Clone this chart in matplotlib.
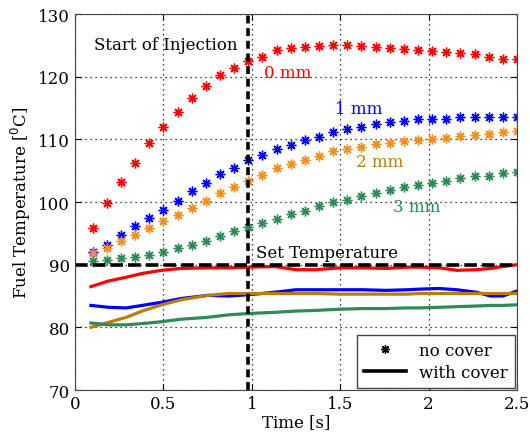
import matplotlib
matplotlib.use("Agg")
import matplotlib.pyplot as plt
from matplotlib.lines import Line2D

plt.rcParams['font.family'] = ['DejaVu Serif']

# sampling times of the "no cover" measurements [s]
t_star = [0.10, 0.18, 0.26, 0.34, 0.42, 0.50, 0.58, 0.66, 0.74, 0.82,
          0.90, 0.98, 1.06, 1.14, 1.22, 1.30, 1.38, 1.46, 1.54, 1.62,
          1.70, 1.78, 1.86, 1.94, 2.02, 2.10, 2.18, 2.26, 2.34, 2.42, 2.50]

# no cover, fuel temperature [C]
nc_0mm = [95.9, 99.8, 103.2, 106.3, 109.4, 112.0, 114.3, 116.6, 118.5, 120.2,
          121.4, 122.5, 123.2, 124.2, 124.5, 124.8, 124.9, 125.0, 125.0, 124.9,
          124.7, 124.6, 124.4, 124.3, 124.1, 123.9, 123.8, 123.6, 123.1, 122.9, 122.8]
nc_1mm = [92.0, 93.1, 94.7, 96.2, 97.5, 98.8, 100.2, 101.7, 103.1, 104.4,
          105.5, 106.7, 107.5, 108.4, 109.1, 109.9, 110.4, 111.1, 111.6, 112.0,
          112.4, 112.8, 113.0, 113.2, 113.3, 113.3, 113.5, 113.5, 113.5, 113.5, 113.5]
nc_2mm = [91.8, 92.7, 93.7, 94.7, 95.8, 96.9, 97.9, 99.0, 100.2, 101.4,
          102.4, 103.4, 104.3, 105.4, 106.0, 106.7, 107.4, 108.1, 108.4, 108.7,
          109.2, 109.4, 109.7, 109.9, 110.1, 110.2, 110.5, 110.7, 110.8, 111.1, 111.3]
nc_3mm = [90.6, 90.7, 91.0, 91.2, 91.6, 92.0, 92.6, 93.1, 93.7, 94.5,
          95.3, 96.0, 96.7, 97.3, 98.1, 98.6, 99.4, 100.0, 100.3, 101.0,
          101.4, 101.9, 102.4, 102.7, 103.0, 103.4, 103.9, 104.1, 104.2, 104.6, 104.8]

# with cover, fuel temperature [C]
t_line = [0.09, 0.19, 0.29, 0.38, 0.49, 0.60, 0.75, 0.87, 0.98, 1.13,
          1.25, 1.36, 1.50, 1.63, 1.76, 1.88, 1.95, 2.06, 2.16, 2.27,
          2.35, 2.42, 2.50]
wc_0mm = [86.5, 87.4, 88.0, 88.6, 89.1, 89.4, 89.5, 89.5, 89.6, 89.7,
          89.2, 89.2, 89.5, 89.5, 89.4, 89.6, 89.6, 89.5, 89.1, 89.2,
          89.4, 89.7, 90.0]
wc_1mm = [83.5, 83.2, 83.1, 83.5, 84.0, 84.6, 85.1, 85.0, 85.2, 85.6,
          86.0, 86.0, 86.0, 86.0, 85.9, 86.0, 86.1, 86.2, 86.0, 85.6,
          85.0, 85.0, 85.8]
wc_2mm = [80.0, 80.8, 81.6, 82.6, 83.6, 84.4, 85.1, 85.4, 85.4, 85.4,
          85.4, 85.4, 85.3, 85.3, 85.3, 85.3, 85.4, 85.4, 85.4, 85.4,
          85.4, 85.4, 85.4]
wc_3mm = [80.7, 80.4, 80.4, 80.6, 80.9, 81.3, 81.6, 82.0, 82.2, 82.4,
          82.6, 82.7, 82.9, 83.0, 83.0, 83.1, 83.1, 83.2, 83.3, 83.4,
          83.5, 83.5, 83.6]

t_injection = 0.98
set_temp = 90

labels = ['0 mm', '1 mm', '2 mm', '3 mm']
star_colors = ['#ff0000', '#0000ff', '#f0901e', '#2e8b57']
line_colors = ['#ff0000', '#0000ff', '#b87d0a', '#2e8b57']
label_pos = [(1.07, 120.7), (1.47, 115.0), (1.59, 106.4), (1.80, 99.3)]

fig = plt.figure(figsize=(5.3, 4.39), dpi=100)
ax = fig.add_axes([0.1415, 0.1093, 0.834, 0.8565])

# MATLAB-like asterisk marker
star = (8, 2, 0)
for ys, c in zip([nc_0mm, nc_1mm, nc_2mm, nc_3mm], star_colors):
    ax.plot(t_star, ys, linestyle='none', marker=star, markersize=7,
            markeredgewidth=1.0, color=c)

for ys, c in zip([wc_0mm, wc_1mm, wc_2mm, wc_3mm], line_colors):
    ax.plot(t_line, ys, '-', linewidth=2.3, color=c)

ax.axhline(set_temp, color='black', linewidth=2.6, dashes=(3.5, 1.4))
ax.axvline(t_injection, color='black', linewidth=2.6, dashes=(2.2, 1.3))

ax.text(0.108, 125.2, 'Start of Injection', fontsize=12, va='center', ha='left')
ax.text(1.025, 92.0, 'Set Temperature', fontsize=12, va='center', ha='left')
for lab, (x, y), c in zip(labels, label_pos, line_colors):
    ax.text(x, y, lab, fontsize=12, color=c, va='center', ha='left')

ax.set_xlim(0, 2.5)
ax.set_ylim(70, 130)
ax.set_xticks([0, 0.5, 1, 1.5, 2, 2.5])
ax.set_xticklabels(['0', '0.5', '1', '1.5', '2', '2.5'])
ax.set_yticks([70, 80, 90, 100, 110, 120, 130])
ax.set_axisbelow(True)
ax.grid(True, linestyle=(0, (1, 3)), color='black', linewidth=0.9)
ax.tick_params(direction='in', top=True, right=True, labelsize=12, length=4)
for s in ax.spines.values():
    s.set_color('#444444')

ax.set_xlabel('Time [s]', fontsize=12, labelpad=1)
ax.set_ylabel('Fuel Temperature [$^0$C]', fontsize=12, labelpad=4)

handles = [Line2D([], [], linestyle='none', marker=star, markersize=6,
                  markeredgewidth=1.0, color='black'),
           Line2D([], [], linestyle='-', linewidth=2.6, color='black')]
ax.legend(handles, ['no cover', 'with cover'], loc='lower right', fontsize=12,
          fancybox=False, edgecolor='#444444', framealpha=1,
          borderaxespad=0.15, handlelength=2.5, labelspacing=0.3)

fig.savefig('out.png', dpi=100)
